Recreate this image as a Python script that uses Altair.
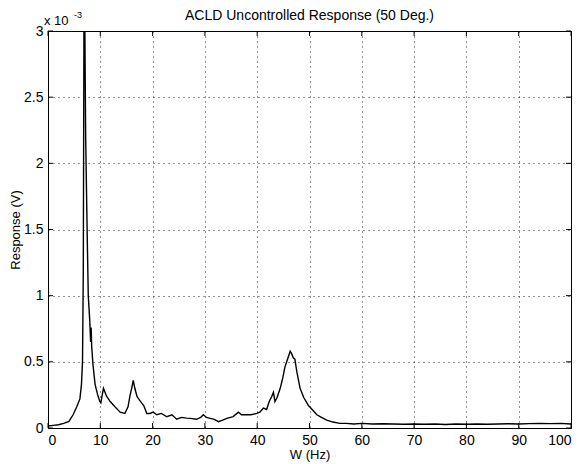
import altair as alt
import pandas as pd

freq = [0, 1, 2, 3, 4, 4.8, 5.5, 6.1, 6.4, 6.6, 6.75, 6.9, 7.05, 7.2, 7.5, 7.7, 8.0, 8.15, 8.25, 8.35,
        8.6, 9.0, 9.5, 9.9, 10.1, 10.6, 11.2, 11.9, 12.8, 13.8, 14.7, 15.3, 15.7, 16.0, 16.3, 16.6, 17.0,
        17.5, 17.9, 18.3, 18.9, 19.5, 20.1, 20.8, 21.7, 22.7, 23.7, 24.6, 25.5, 26.5, 27.2, 28.4, 29.2,
        29.7, 30.3, 31.0, 31.8, 32.6, 33.4, 34.2, 35.4, 36.4, 37.0, 37.7, 38.8, 39.9, 40.5, 41.2, 41.8,
        42.3, 42.8, 43.1, 43.4, 43.8, 44.4, 44.9, 45.3, 45.8, 46.3, 46.6, 46.9, 47.2, 47.6, 48.2, 48.9,
        49.8, 50.5, 51.4, 52.3, 53.3, 54.5, 55.8, 57, 58.5, 60, 62, 64, 66, 68, 70, 72, 74, 76, 78, 80,
        82, 84, 86, 88, 90, 92, 94, 96, 98, 100]
response = [0.015, 0.02, 0.025, 0.035, 0.05, 0.1, 0.16, 0.22, 0.33, 0.5, 1.2, 3.4, 3.0, 2.2, 1.45, 1.0,
            0.8, 0.65, 0.76, 0.62, 0.48, 0.33, 0.25, 0.2, 0.19, 0.3, 0.24, 0.2, 0.16, 0.12, 0.11, 0.16,
            0.25, 0.3, 0.36, 0.3, 0.24, 0.21, 0.19, 0.17, 0.11, 0.11, 0.12, 0.1, 0.11, 0.085, 0.1, 0.066,
            0.08, 0.075, 0.073, 0.066, 0.08, 0.1, 0.08, 0.073, 0.065, 0.048, 0.06, 0.073, 0.086, 0.12,
            0.1, 0.1, 0.1, 0.11, 0.12, 0.15, 0.14, 0.2, 0.24, 0.27, 0.2, 0.23, 0.3, 0.38, 0.46, 0.52,
            0.58, 0.56, 0.53, 0.52, 0.42, 0.3, 0.23, 0.17, 0.14, 0.1, 0.08, 0.06, 0.045, 0.035, 0.035,
            0.03, 0.035, 0.03, 0.032, 0.03, 0.028, 0.03, 0.028, 0.03, 0.027, 0.03, 0.028, 0.03, 0.028,
            0.03, 0.032, 0.03, 0.033, 0.035, 0.033, 0.035, 0.03]
assert len(freq) == len(response)

x_ticks = [0, 10, 20, 30, 40, 50, 60, 70, 80, 90, 100]
y_ticks = [0, 0.5, 1, 1.5, 2, 2.5, 3]
title_text = ["ACLD Uncontrolled Response (50 Deg.)"]

W, H = 523, 397
FONT = "Liberation Sans"

df = pd.DataFrame({"freq": freq, "resp": response})
xs = alt.Scale(domain=[0, 100], nice=False, zero=False)
ys = alt.Scale(domain=[0, 3], nice=False)

line = alt.Chart(df).mark_line(color="black", strokeWidth=1.4, clip=True).encode(
    x=alt.X("freq:Q", scale=xs, title="W (Hz)",
            axis=alt.Axis(values=x_ticks, format="d", titlePadding=1)),
    y=alt.Y("resp:Q", scale=ys, title="Response (V)",
            axis=alt.Axis(values=y_ticks, format="~g", titlePadding=1)),
)

xt = pd.DataFrame({"v": x_ticks})
yt = pd.DataFrame({"v": y_ticks})
tb = alt.Chart(xt).mark_rule(color="black", strokeWidth=1).encode(
    x=alt.X("v:Q", scale=xs), y=alt.value(H), y2=alt.value(H - 5))
tt = alt.Chart(xt).mark_rule(color="black", strokeWidth=1).encode(
    x=alt.X("v:Q", scale=xs), y=alt.value(0), y2=alt.value(5))
tl = alt.Chart(yt).mark_rule(color="black", strokeWidth=1).encode(
    y=alt.Y("v:Q", scale=ys), x=alt.value(0), x2=alt.value(5))
tr = alt.Chart(yt).mark_rule(color="black", strokeWidth=1).encode(
    y=alt.Y("v:Q", scale=ys), x=alt.value(W), x2=alt.value(W - 5))

ann = pd.DataFrame({"t": ["x 10"], "e": ["-3"]})
mult = alt.Chart(ann).mark_text(font=FONT, fontSize=13, align="left", baseline="alphabetic",
                                color="black").encode(text="t:N", x=alt.value(-4), y=alt.value(-6))
expo = alt.Chart(ann).mark_text(font=FONT, fontSize=9, align="left", baseline="alphabetic",
                                color="black").encode(text="e:N", x=alt.value(26), y=alt.value(-13))
ttl = alt.Chart(pd.DataFrame({"t": title_text})).mark_text(
    font=FONT, fontSize=14, align="center", baseline="alphabetic", color="black").encode(
    text="t:N", x=alt.value(W / 2), y=alt.value(-11))

chart = alt.layer(line, tb, tt, tl, tr, mult, expo, ttl).properties(
    width=W, height=H,
    autosize=alt.AutoSizeParams(type="none"),
    padding={"left": 40, "top": 23, "right": 8, "bottom": 36},
).configure_view(stroke="black", strokeWidth=1).configure_axis(
    labelFont=FONT, labelFontSize=14, labelColor="black", titleFont=FONT, titleFontSize=13,
    titleFontWeight="normal", titleColor="black", tickSize=0, labelPadding=5,
    domainColor="black", grid=True, gridColor="black", gridDash=[1, 4], gridOpacity=0.85,
)

chart.save("out.html", embed_options={"renderer": "svg", "actions": False})
